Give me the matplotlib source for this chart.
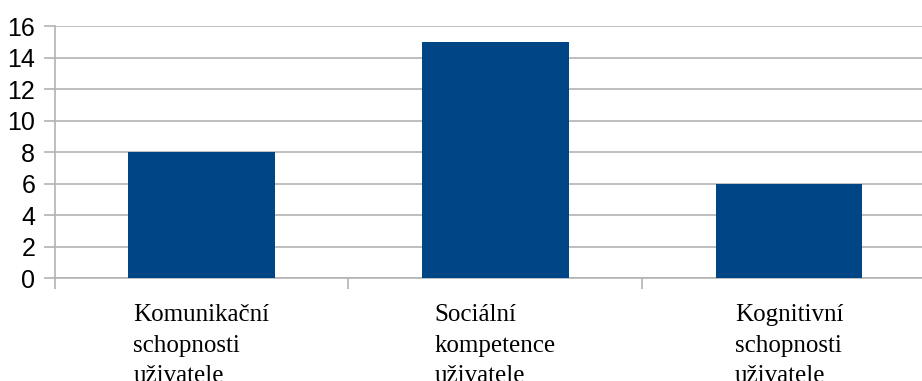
import matplotlib
matplotlib.use("Agg")
import matplotlib.pyplot as plt

categories = ["Komunikační\nschopnosti\nuživatele",
              "Sociální\nkompetence\nuživatele",
              "Kognitivní\nschopnosti\nuživatele"]
values = [8, 15, 6]
y_ticks = [0, 2, 4, 6, 8, 10, 12, 14, 16]

bar_color = "#004586"
grid_color = "#b3b3b3"

fig = plt.figure(figsize=(9.22, 3.81), dpi=100)
ax = fig.add_axes([0.0592, 0.2703, 0.9559, 0.6614])

x = list(range(len(categories)))
ax.bar(x, values, width=0.5, color=bar_color, zorder=3)

ax.set_xlim(-0.5, len(categories) - 0.5)
ax.set_ylim(0, 16)
ax.set_yticks(y_ticks)
ax.set_yticklabels([str(v) for v in y_ticks], fontsize=18,
                   family="Liberation Sans")
ax.yaxis.grid(True, color=grid_color, linewidth=1.2, zorder=0)

# boundary ticks between categories
ax.set_xticks([i - 0.5 for i in range(len(categories) + 1)])
ax.set_xticklabels([""] * (len(categories) + 1))
ax.set_xticks(x, categories, minor=True)
for lbl in ax.get_xticklabels(minor=True):
    lbl.set_family("Liberation Serif")
    lbl.set_fontsize(18)
    lbl.set_multialignment("left")
    lbl.set_linespacing(1.5)

ax.tick_params(axis="x", which="major", length=8, color=grid_color, width=1.2)
ax.tick_params(axis="x", which="minor", length=0, pad=19)
ax.tick_params(axis="y", length=8, color=grid_color, width=1.2, pad=6)

for side in ("top", "right"):
    ax.spines[side].set_visible(False)
for side in ("left", "bottom"):
    ax.spines[side].set_color(grid_color)
    ax.spines[side].set_linewidth(1.2)

fig.savefig("out.png", dpi=100)
